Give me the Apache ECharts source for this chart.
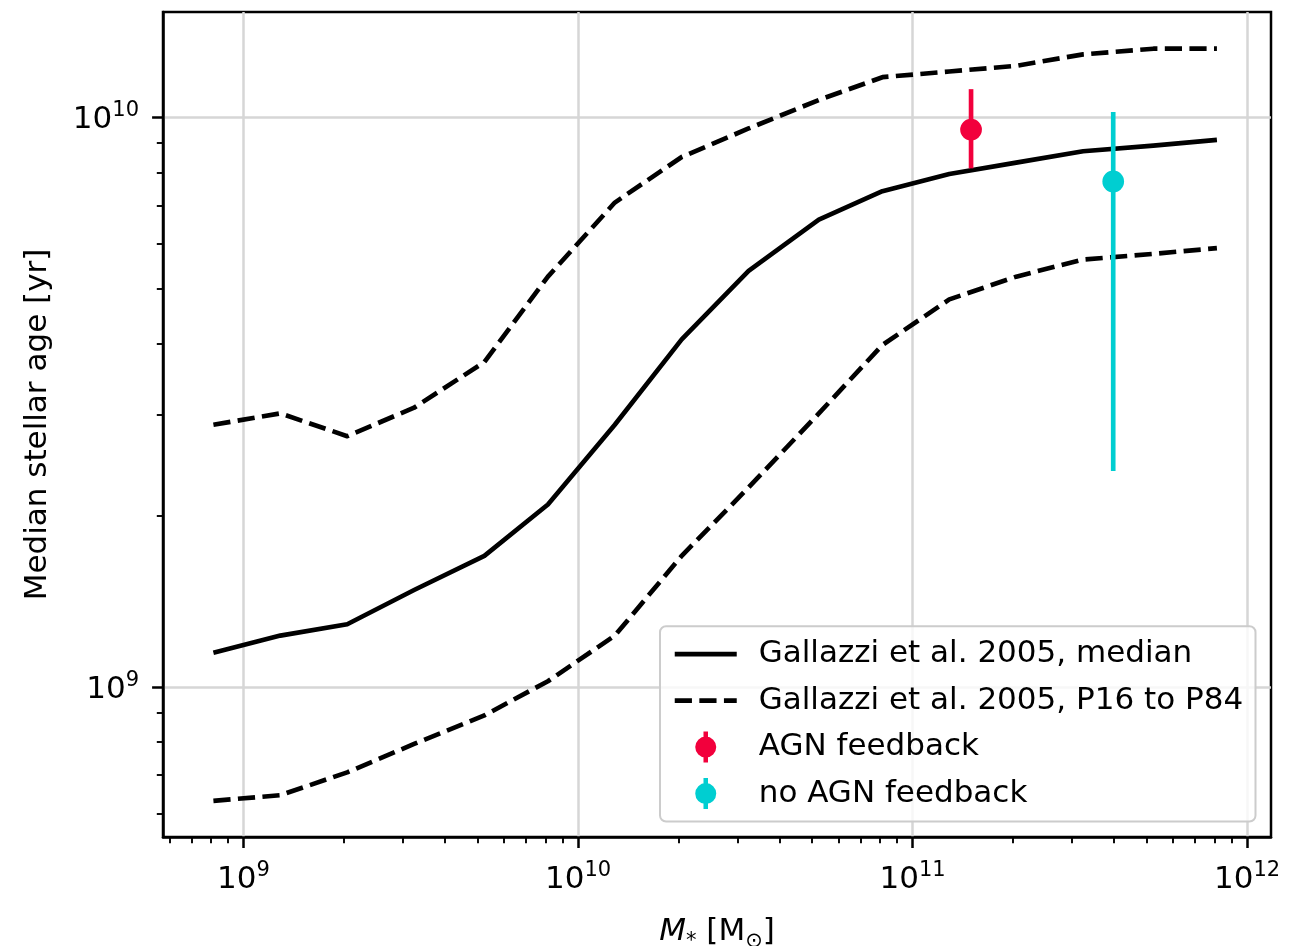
<!DOCTYPE html>
<html>
<head>
<meta charset="utf-8">
<script src="https://cdn.jsdelivr.net/npm/echarts@6/dist/echarts.min.js"></script>
<style>
  html, body { margin: 0; padding: 0; background: #fff; }
  #chart { width: 1302px; height: 946px; }
</style>
</head>
<body>
<div id="chart"></div>
<script>
// ---- data (log10 values) ----
const logMass = [8.91, 9.11, 9.31, 9.51, 9.72, 9.91, 10.11, 10.31, 10.51, 10.72, 10.91, 11.11, 11.31, 11.51, 11.72, 11.91];
const logAgeMedian = [9.06, 9.09, 9.11, 9.17, 9.23, 9.32, 9.46, 9.61, 9.73, 9.82, 9.87, 9.90, 9.92, 9.94, 9.95, 9.96];
const logAgeP16 = [8.80, 8.81, 8.85, 8.90, 8.95, 9.01, 9.09, 9.23, 9.35, 9.48, 9.60, 9.68, 9.72, 9.75, 9.76, 9.77];
const logAgeP84 = [9.46, 9.48, 9.44, 9.49, 9.57, 9.72, 9.85, 9.93, 9.98, 10.03, 10.07, 10.08, 10.09, 10.11, 10.12, 10.12];

const simNames = ['AGN feedback', 'no AGN feedback'];
const simLogMass = [11.175, 11.60];
const simLogAge = [9.978, 9.887];
const simLogAgeLow = [9.910, 9.379];
const simLogAgeHigh = [10.049, 10.009];

const xTickExponents = [9, 10, 11, 12];
const yTickExponents = [9, 10];

const seriesNames = ['Gallazzi et al. 2005, median', 'Gallazzi et al. 2005, P16 to P84'];
const xAxisTitle = '{i|M}{sub|*} [M{sub|⊙}]';
const yAxisTitle = 'Median stellar age [yr]';

// ---- style / layout ----
const simColors = ['#f2003c', '#00ced1'];
const X_MIN = 8.7593, X_MAX = 12.0717;
const Y_MIN = 8.7366, Y_MAX = 10.1844;
const FONT = 'DejaVu Sans';
const LW = 4.65;
const DASH = [17.2, 7.4];
const MARKER_R = 10.85;

function minorTicks(lo, hi) {
  const out = [];
  for (let e = Math.floor(lo) - 1; e <= Math.ceil(hi); e++) {
    for (let k = 2; k <= 9; k++) {
      const v = e + Math.log10(k);
      if (v > lo && v < hi) out.push(v);
    }
  }
  return out;
}

const tickRich = {
  b: { fontSize: 31, lineHeight: 40, verticalAlign: 'middle', fontFamily: FONT, color: '#000' },
  e: { fontSize: 21, lineHeight: 21, verticalAlign: 'top', fontFamily: FONT, color: '#000' }
};
const expFormatter = v => '{b|10}{e|' + Math.round(v) + '}';

const errIcon = 'path://M8.525,0H13.175V32H8.525Z M0,16A10.85,10.85,0,1,1,21.7,16A10.85,10.85,0,1,1,0,16Z';
const hiddenSymbol = { color: 'rgba(0,0,0,0)', borderColor: 'rgba(0,0,0,0)', borderWidth: 0 };

const chart = echarts.init(document.getElementById('chart'), null, { renderer: 'canvas' });

const option = {
  animation: false,
  backgroundColor: '#ffffff',
  textStyle: { fontFamily: FONT, color: '#000' },
  grid: {
    left: 163, right: 31, top: 12, bottom: 109,
    outerBoundsMode: 'none', containLabel: false,
    show: true, borderColor: '#000', borderWidth: 2.5, backgroundColor: 'transparent'
  },
  xAxis: [
    {
      type: 'value', min: X_MIN, max: X_MAX, position: 'bottom',
      axisLine: { show: true, onZero: false, lineStyle: { color: '#000', width: 2.5 } },
      axisTick: { show: true, customValues: xTickExponents, length: 10.9, lineStyle: { color: '#000', width: 2.5 } },
      axisLabel: { customValues: xTickExponents, formatter: expFormatter, margin: 23, rich: tickRich },
      splitLine: { show: true, lineStyle: { color: '#d6d6d6', width: 2.5 } },
      name: xAxisTitle, nameLocation: 'middle', nameGap: 75,
      nameTextStyle: {
        fontSize: 31, lineHeight: 40, color: '#000', fontFamily: FONT,
        rich: {
          i: { fontSize: 31, fontStyle: 'italic', fontFamily: FONT, color: '#000' },
          sub: { fontSize: 21, lineHeight: 21, verticalAlign: 'bottom', fontFamily: FONT, color: '#000' }
        }
      }
    },
    {
      type: 'value', min: X_MIN, max: X_MAX, position: 'bottom',
      axisLine: { show: false, onZero: false },
      axisTick: { show: true, customValues: minorTicks(X_MIN, X_MAX), length: 6.2, lineStyle: { color: '#000', width: 1.9 } },
      axisLabel: { show: false },
      splitLine: { show: false }
    }
  ],
  yAxis: [
    {
      type: 'value', min: Y_MIN, max: Y_MAX, position: 'left',
      axisLine: { show: true, onZero: false, lineStyle: { color: '#000', width: 2.5 } },
      axisTick: { show: true, customValues: yTickExponents, length: 10.9, lineStyle: { color: '#000', width: 2.5 } },
      axisLabel: { customValues: yTickExponents, formatter: expFormatter, margin: 24, padding: [6, 0, 0, 0], rich: tickRich },
      splitLine: { show: true, lineStyle: { color: '#d6d6d6', width: 2.5 } },
      name: yAxisTitle, nameLocation: 'middle', nameGap: 110, nameRotate: 90,
      nameTextStyle: { fontSize: 31, lineHeight: 31, color: '#000', fontFamily: FONT }
    },
    {
      type: 'value', min: Y_MIN, max: Y_MAX, position: 'left',
      axisLine: { show: false, onZero: false },
      axisTick: { show: true, customValues: minorTicks(Y_MIN, Y_MAX), length: 6.2, lineStyle: { color: '#000', width: 1.9 } },
      axisLabel: { show: false },
      splitLine: { show: false }
    }
  ],
  legend: {
    orient: 'vertical', right: 46.5, bottom: 124.5,
    padding: [12.4, 12.4, 12.4, 12.4],
    itemWidth: 62, itemHeight: 31, itemGap: 15.5,
    backgroundColor: 'rgba(255,255,255,0.8)', borderColor: '#cccccc', borderWidth: 2, borderRadius: 6,
    selectedMode: false,
    textStyle: { fontSize: 31, lineHeight: 31, color: '#000', fontFamily: FONT, padding: [0, 0, 0, 17] },
    data: [
      { name: seriesNames[0], itemStyle: hiddenSymbol, lineStyle: { color: '#000', width: LW, type: 'solid' } },
      { name: seriesNames[1], itemStyle: hiddenSymbol, lineStyle: { color: '#000', width: LW, type: DASH } },
      { name: simNames[0], icon: errIcon },
      { name: simNames[1], icon: errIcon }
    ]
  },
  series: [
    {
      name: seriesNames[0], type: 'line', xAxisIndex: 0, yAxisIndex: 0, symbol: 'none',
      data: logMass.map((x, i) => [x, logAgeMedian[i]]),
      lineStyle: { color: '#000', width: LW, join: 'round' }, itemStyle: { color: '#000' }, z: 2
    },
    {
      name: seriesNames[1], type: 'line', xAxisIndex: 0, yAxisIndex: 0, symbol: 'none',
      data: logMass.map((x, i) => [x, logAgeP16[i]]),
      lineStyle: { color: '#000', width: LW, type: DASH, join: 'round' }, itemStyle: { color: '#000' }, z: 2
    },
    {
      name: seriesNames[1], type: 'line', xAxisIndex: 0, yAxisIndex: 0, symbol: 'none',
      data: logMass.map((x, i) => [x, logAgeP84[i]]),
      lineStyle: { color: '#000', width: LW, type: DASH, join: 'round' }, itemStyle: { color: '#000' }, z: 2
    }
  ].concat(simNames.map((nm, k) => ({
    name: nm, type: 'custom', xAxisIndex: 0, yAxisIndex: 0, z: 3,
    itemStyle: { color: simColors[k] },
    encode: { x: 0, y: 1 },
    data: [[simLogMass[k], simLogAge[k], simLogAgeLow[k], simLogAgeHigh[k]]],
    renderItem: function (params, api) {
      const x = api.value(0);
      const p = api.coord([x, api.value(1)]);
      const lo = api.coord([x, api.value(2)]);
      const hi = api.coord([x, api.value(3)]);
      const c = simColors[k];
      return {
        type: 'group',
        children: [
          { type: 'line', shape: { x1: lo[0], y1: lo[1], x2: hi[0], y2: hi[1] }, style: { stroke: c, lineWidth: LW } },
          { type: 'circle', shape: { cx: p[0], cy: p[1], r: MARKER_R }, style: { fill: c } }
        ]
      };
    }
  })))
};

chart.setOption(option);
</script>
</body>
</html>
